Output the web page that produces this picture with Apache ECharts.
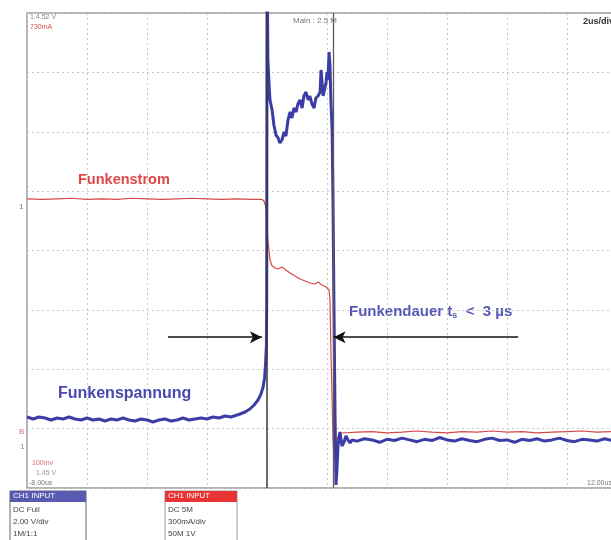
<!DOCTYPE html>
<html>
<head>
<meta charset="utf-8">
<script src="https://cdn.jsdelivr.net/npm/echarts@6/dist/echarts.min.js"></script>
<style>
html,body{margin:0;padding:0;background:#fff;}
#c{width:611px;height:540px;}
</style>
</head>
<body>
<div id="c"></div>
<script>
// time axis in µs (2 µs/div, 10 div), vertical in divisions (8 div)
const xTicks = [0, 2, 4, 6, 8, 10, 12, 14, 16, 18, 20];
const triggerTime = 8.0;
const cursorTime = 10.2;

// Funkenspannung (blue, CH1)
const blueTime = [
  0.0,0.2,0.4,0.6,0.8,1.0,1.2,1.4,1.6,1.8,2.0,2.2,2.4,2.6,2.8,3.0,3.2,3.4,3.6,3.8,
  4.0,4.2,4.4,4.6,4.8,5.0,5.2,5.4,5.6,5.8,6.0,6.2,6.4,6.6,6.8,7.0,
  7.1,7.27,7.43,7.57,7.7,7.8,7.87,7.92,7.95,7.98,7.99,8.0,8.01,
  8.03,8.07,8.1,8.17,8.23,8.3,8.37,8.43,8.5,8.57,8.63,8.7,8.77,8.83,8.9,8.97,
  9.03,9.1,9.17,9.23,9.3,9.37,9.43,9.5,9.57,9.63,9.7,9.77,9.8,9.83,9.87,9.93,9.97,
  10.0,10.03,10.07,10.1,10.13,10.17,10.2,10.23,10.27,10.3,10.33,10.37,10.43,10.5,10.57,10.63,10.7,10.77,10.83,
  11.0,11.25,11.5,11.75,12.0,12.25,12.5,12.75,13.0,13.25,13.5,13.75,14.0,14.25,14.5,14.75,15.0,15.25,
  15.5,15.75,16.0,16.25,16.5,16.75,17.0,17.25,17.5,17.75,18.0,18.25,18.5,18.75,19.0,19.25,19.5,19.75,20.0
];
const blueValue = [
  1.196,1.162,1.196,1.179,1.145,1.179,1.162,1.196,1.162,1.145,1.179,1.145,1.162,1.128,1.162,1.145,1.179,1.145,1.128,1.162,
  1.145,1.112,1.145,1.162,1.128,1.145,1.179,1.145,1.162,1.179,1.162,1.196,1.179,1.213,1.196,1.229,
  1.246,1.28,1.331,1.398,1.482,1.583,1.701,1.853,2.072,2.408,3.166,8.0,8.6,
  7.208,6.787,6.535,6.366,6.114,5.945,5.895,5.811,5.861,5.996,5.928,6.198,6.333,6.232,6.4,6.333,
  6.467,6.535,6.4,6.602,6.669,6.535,6.602,6.467,6.4,6.568,6.602,6.669,7.04,6.872,6.602,6.737,6.838,
  7.006,6.872,7.343,7.107,6.535,6.029,4.851,3.166,1.145,0.051,0.303,0.724,0.943,0.707,0.775,0.876,0.808,0.758,0.808,
  0.79,0.83,0.81,0.77,0.82,0.80,0.84,0.81,0.78,0.82,0.80,0.85,0.81,0.79,0.83,0.80,0.78,0.82,
  0.84,0.80,0.81,0.77,0.82,0.80,0.83,0.79,0.81,0.84,0.80,0.78,0.82,0.81,0.79,0.83,0.80,0.82,0.81
];

// Funkenstrom (red)
const redTime = [
  0.0,0.5,1.0,1.5,2.0,2.5,3.0,3.5,4.0,4.5,5.0,5.5,6.0,6.5,7.0,7.5,
  7.83,7.9,7.97,8.0,8.03,8.07,8.1,8.17,8.27,8.37,8.5,8.63,8.77,8.93,9.1,9.27,9.43,9.6,9.7,9.83,9.97,
  10.07,10.1,10.13,10.17,10.2,10.23,10.27,10.33,10.4,10.5,
  11.0,11.5,12.0,12.5,13.0,13.5,14.0,14.5,15.0,15.5,16.0,16.5,17.0,17.5,18.0,18.5,19.0,19.5,20.0
];
const redValue = [
  4.87,4.86,4.87,4.88,4.86,4.87,4.86,4.88,4.87,4.86,4.87,4.88,4.87,4.86,4.87,4.86,
  4.86,4.834,4.716,4.429,4.177,3.975,3.84,3.739,3.705,3.688,3.722,3.672,3.621,3.571,3.52,3.486,3.453,3.436,3.469,3.419,3.385,
  3.335,3.166,2.324,1.482,0.808,0.505,0.606,0.808,0.909,0.926,
  0.94,0.95,0.93,0.94,0.96,0.94,0.93,0.95,0.94,0.96,0.94,0.95,0.93,0.94,0.95,0.96,0.94,0.95,0.94
];

// duration arrows (time from -> to, level in divisions)
const arrowLevel = 2.54;
const arrowLeft = [4.7, 7.83];
const arrowRight = [16.37, 10.22];

const zip = (a, b) => a.map((t, i) => [t, b[i]]);

const chart = echarts.init(document.getElementById('c'), null, {renderer: 'canvas'});
const FF = 'Liberation Sans, Arial, sans-serif';
const small = {fontFamily: FF, fontSize: 7, fill: '#888'};

chart.setOption({
  animation: false,
  backgroundColor: '#fff',
  grid: {left: 27, top: 13, width: 600, height: 475, show: true, borderColor: '#9a9a9a', borderWidth: 1.5,
         containLabel: false, outerBoundsMode: 'none'},
  xAxis: {
    type: 'value', min: 0, max: 20, interval: 2,
    axisLine: {show: false}, axisTick: {show: false}, axisLabel: {show: false},
    splitLine: {show: true, lineStyle: {color: '#c8c8c8', type: [2, 3], width: 1}}
  },
  yAxis: {
    type: 'value', min: 0, max: 8, interval: 1,
    axisLine: {show: false}, axisTick: {show: false}, axisLabel: {show: false},
    splitLine: {show: true, lineStyle: {color: '#c8c8c8', type: [2, 3], width: 1}}
  },
  series: [
    {
      type: 'line', name: 'Funkenstrom', data: zip(redTime, redValue),
      showSymbol: false, clip: true,
      lineStyle: {color: '#d84848', width: 1.2}
    },
    {
      type: 'line', name: 'Funkenspannung', data: zip(blueTime, blueValue),
      showSymbol: false, clip: true,
      lineStyle: {color: '#3c3ca6', width: 3},
      markLine: {
        silent: true, symbol: ['none', 'none'], label: {show: false},
        lineStyle: {color: '#3a3a3a', width: 1.5, type: 'solid'},
        data: [
          {xAxis: triggerTime},
          {xAxis: cursorTime, lineStyle: {color: '#5a5a5a', width: 1.3}}
        ]
      }
    },
    {
      type: 'line', data: [],
      markLine: {
        silent: true, symbol: ['none', 'arrow'], symbolSize: [9, 12], label: {show: false},
        lineStyle: {color: '#111', width: 1.6, type: 'solid'},
        data: [
          [{coord: [arrowLeft[0], arrowLevel]}, {coord: [arrowLeft[1], arrowLevel]}],
          [{coord: [arrowRight[0], arrowLevel]}, {coord: [arrowRight[1], arrowLevel]}]
        ]
      }
    }
  ],
  graphic: [
    {type: 'text', left: 30, top: 14, style: Object.assign({}, small, {text: '1.4.52 V'})},
    {type: 'text', left: 30, top: 24, style: Object.assign({}, small, {text: '730mA', fill: '#d05050'})},
    {type: 'text', left: 293, top: 17, style: Object.assign({}, small, {text: 'Main : 2.5 M', fill: '#777', fontSize: 8})},
    {type: 'text', left: 583, top: 17, style: {text: '2us/div', fontFamily: FF, fontSize: 9, fontWeight: 'bold', fill: '#333'}},
    {type: 'text', left: 78, top: 172, style: {text: 'Funkenstrom', fontFamily: FF, fontSize: 14.5, fontWeight: 'bold', fill: '#e04848'}},
    {type: 'text', left: 58, top: 386, style: {text: 'Funkenspannung', fontFamily: FF, fontSize: 16, fontWeight: 'bold', fill: '#4848ae'}},
    {type: 'text', left: 349, top: 304, style: {
      text: '{a|Funkendauer t}{s|s}{a|  <  3 µs}',
      fill: '#5656b8',
      rich: {
        a: {fontFamily: FF, fontSize: 15, fontWeight: 'bold', fill: '#5656b8', color: '#5656b8'},
        s: {fontFamily: FF, fontSize: 9, fontWeight: 'bold', fill: '#5656b8', color: '#5656b8', padding: [8, 0, 0, 0]}
      }
    }},
    {type: 'text', left: 19, top: 203, style: {text: '1', fontFamily: FF, fontSize: 8, fill: '#7070b8'}},
    {type: 'text', left: 19, top: 428, style: {text: 'B', fontFamily: FF, fontSize: 8, fill: '#e07070'}},
    {type: 'text', left: 20, top: 443, style: {text: '1', fontFamily: FF, fontSize: 8, fill: '#8080c0'}},
    {type: 'text', left: 32, top: 460, style: Object.assign({}, small, {text: '100mv', fill: '#e07070'})},
    {type: 'text', left: 36, top: 470, style: Object.assign({}, small, {text: '1.45 V', fill: '#999'})},
    {type: 'text', left: 29, top: 480, style: Object.assign({}, small, {text: '-8.00us', fill: '#777'})},
    {type: 'text', left: 587, top: 480, style: Object.assign({}, small, {text: '12.00us', fill: '#777'})},
    // channel boxes
    {type: 'rect', shape: {x: 10, y: 491, width: 76, height: 60}, style: {fill: '#fff', stroke: '#666', lineWidth: 1}},
    {type: 'rect', shape: {x: 10, y: 491, width: 76, height: 11}, style: {fill: '#5a5ab2'}},
    {type: 'text', left: 13, top: 492, style: {text: 'CH1 INPUT', fontFamily: FF, fontSize: 8, fill: '#fff'}},
    {type: 'text', left: 13, top: 506, style: Object.assign({}, small, {text: 'DC Full', fontSize: 8, fill: '#444'})},
    {type: 'text', left: 13, top: 518, style: Object.assign({}, small, {text: '2.00 V/div', fontSize: 8, fill: '#444'})},
    {type: 'text', left: 13, top: 530, style: Object.assign({}, small, {text: '1M/1:1', fontSize: 8, fill: '#444'})},
    {type: 'rect', shape: {x: 165, y: 491, width: 72, height: 60}, style: {fill: '#fff', stroke: '#999', lineWidth: 1}},
    {type: 'rect', shape: {x: 165, y: 491, width: 72, height: 11}, style: {fill: '#e83434'}},
    {type: 'text', left: 168, top: 492, style: {text: 'CH1 INPUT', fontFamily: FF, fontSize: 8, fill: '#fff'}},
    {type: 'text', left: 168, top: 506, style: Object.assign({}, small, {text: 'DC 5M', fontSize: 8, fill: '#444'})},
    {type: 'text', left: 168, top: 518, style: Object.assign({}, small, {text: '300mA/div', fontSize: 8, fill: '#444'})},
    {type: 'text', left: 168, top: 530, style: Object.assign({}, small, {text: '50M 1V', fontSize: 8, fill: '#444'})}
  ]
});
</script>
</body>
</html>
